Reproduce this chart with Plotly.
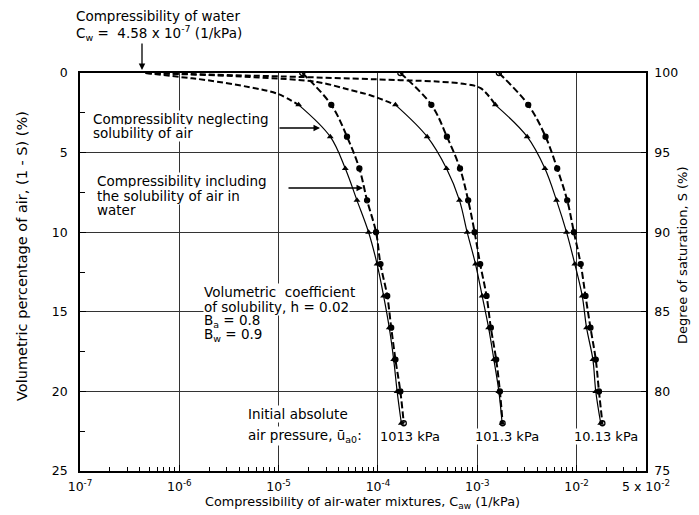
import math
import plotly.graph_objects as go

# ---------------- data ----------------
air_neglect = [2, 4, 6, 8, 10, 12, 14, 16, 18, 20, 22]          # (1 - S) %, neglecting solubility
air_include = [0, 2, 4, 6, 8, 10, 12, 14, 16, 18, 20, 22]       # (1 - S) %, including solubility

neglect_1013 = [1.59e-5, 3.31e-5, 4.69e-5, 6.15e-5, 8.05e-5, 9.8e-5, 1.14e-4, 1.30e-4, 1.44e-4, 1.56e-4, 1.72e-4]
include_1013 = [1.73e-5, 3.39e-5, 4.88e-5, 6.5e-5, 7.77e-5, 9.57e-5, 1.06e-4, 1.24e-4, 1.36e-4, 1.50e-4, 1.68e-4, 1.82e-4]

neglect_101 = [1.50e-4, 3.13e-4, 4.9e-4, 6.62e-4, 7.91e-4, 9.6e-4, 1.12e-3, 1.30e-3, 1.47e-3, 1.65e-3, 1.78e-3]
include_101 = [1.68e-4, 3.45e-4, 4.95e-4, 6.7e-4, 8.1e-4, 9.4e-4, 1.07e-3, 1.24e-3, 1.37e-3, 1.55e-3, 1.69e-3, 1.80e-3]

neglect_10 = [1.52e-3, 3.18e-3, 4.8e-3, 6.28e-3, 7.92e-3, 9.6e-3, 1.14e-2, 1.26e-2, 1.46e-2, 1.56e-2, 1.75e-2]
include_10 = [1.65e-3, 3.26e-3, 4.87e-3, 6.38e-3, 8.05e-3, 9.4e-3, 1.10e-2, 1.23e-2, 1.38e-2, 1.56e-2, 1.68e-2, 1.82e-2]

# dashed approach of the "neglecting" curves towards the compressibility of water
approach_1013_x = [4.58e-7, 1.02e-6, 1.89e-6, 5.17e-6, 9.7e-6, 1.59e-5]
approach_1013_y = [0, 0.25, 0.45, 0.9, 1.3, 2.0]
approach_101_x = [4.58e-7, 5.17e-6, 2.45e-5, 5.27e-5, 8.38e-5, 1.50e-4]
approach_101_y = [0, 0.25, 0.57, 1.07, 1.4, 2.0]
approach_10_x = [4.58e-7, 1.65e-5, 1.68e-4, 4.26e-4, 7.6e-4, 1.08e-3, 1.52e-3]
approach_10_y = [0, 0.25, 0.45, 0.55, 0.7, 0.95, 2.0]

x_tickvals = [1e-7, 1e-6, 1e-5, 1e-4, 1e-3, 1e-2, 5e-2]
x_ticktext = ["10<sup>-7</sup>", "10<sup>-6</sup>", "10<sup>-5</sup>", "10<sup>-4</sup>",
              "10<sup>-3</sup>", "10<sup>-2</sup>", "5 x 10<sup>-2</sup>"]
y_left_ticks = [0, 5, 10, 15, 20, 25]
y_right_ticks = [100, 95, 90, 85, 80, 75]
pressure_labels = ["1013 kPa", "101.3 kPa", "10.13 kPa"]

# ---------------- figure ----------------
FONT = "DejaVu Sans, Verdana, sans-serif"
fig = go.Figure()

for ax_, ay_ in [(approach_1013_x, approach_1013_y), (approach_101_x, approach_101_y), (approach_10_x, approach_10_y)]:
    fig.add_trace(go.Scatter(x=ax_, y=ay_, mode="lines", line=dict(color="black", width=2, dash="6px,3px"),
                             line_shape="spline", hoverinfo="skip", showlegend=False))

for neg in [neglect_1013, neglect_101, neglect_10]:
    fig.add_trace(go.Scatter(x=neg, y=air_neglect, mode="lines+markers", line=dict(color="black", width=1.2),
                             line_shape="spline",
                             marker=dict(symbol="triangle-up", size=6, color="black"),
                             showlegend=False))

for inc in [include_1013, include_101, include_10]:
    syms = ["circle-open"] + ["circle"] * (len(inc) - 2) + ["circle-open"]
    fig.add_trace(go.Scatter(x=inc, y=air_include, mode="lines+markers",
                             line=dict(color="black", width=2, dash="7px,3px"), line_shape="spline",
                             marker=dict(symbol=syms, size=5, color="black", line=dict(color="black", width=1.3)),
                             showlegend=False))

# invisible trace so the right axis is drawn
fig.add_trace(go.Scatter(x=[1e-7], y=[100], yaxis="y2", mode="markers", marker=dict(opacity=0),
                         hoverinfo="skip", showlegend=False))

minor_x = [k * 10 ** e for e in range(-7, -1) for k in range(2, 10) if k * 10 ** e < 0.05]

# the page body adds an 8px offset, so the figure is sized to end at the window edge
fig.update_layout(
    width=691, height=507,
    margin=dict(l=72, r=53, t=65, b=44),
    paper_bgcolor="white", plot_bgcolor="white",
    font=dict(family=FONT, size=12, color="black"),
    xaxis=dict(type="log", range=[-7, math.log10(0.05)], tickvals=x_tickvals, ticktext=x_ticktext,
               ticks="inside", ticklen=6, tickcolor="black", ticklabelstandoff=3,
               showline=True, linecolor="black", linewidth=1.5, mirror=True,
               showgrid=True, gridcolor="#333", gridwidth=1, zeroline=False,
               minor=dict(tickvals=minor_x, ticks="inside", ticklen=4, tickcolor="black", showgrid=False),
               tickfont=dict(size=12.5)),
    yaxis=dict(range=[25, 0], tickvals=y_left_ticks, ticks="inside", ticklen=6, tickcolor="black",
               ticklabelstandoff=8,
               showline=True, linecolor="black", linewidth=1.5, mirror=True,
               showgrid=True, gridcolor="#333", gridwidth=1, zeroline=False,
               minor=dict(tickvals=[2.5, 7.5, 12.5, 17.5, 22.5], ticks="inside", ticklen=5,
                          tickcolor="black", showgrid=False),
               tickfont=dict(size=12.5)),
    yaxis2=dict(overlaying="y", side="right", range=[75, 100], tickvals=y_right_ticks,
                ticks="inside", ticklen=5, tickcolor="black", ticklabelstandoff=4,
                showline=True, linecolor="black", linewidth=1.5, showgrid=False, zeroline=False,
                tickfont=dict(size=12.5)),
)

# page-pixel positions of the plotting area
X0, X1, Y0, Y1 = 80, 646, 73, 471


def P(px, py):
    return (px - X0) / (X1 - X0), (Y1 - py) / (Y1 - Y0)


def text(t, px, py, xanchor="left", size=13, bg=None, angle=0):
    x, y = P(px, py)
    fig.add_annotation(x=x, y=y, xref="paper", yref="paper", text=t, showarrow=False,
                       xanchor=xanchor, yanchor="middle", align="left", textangle=angle,
                       font=dict(family=FONT, size=size, color="black"),
                       bgcolor=bg, borderpad=0)


def arrow(px_tip, py_tip, dx, dy):
    x, y = P(px_tip, py_tip)
    fig.add_annotation(x=x, y=y, xref="paper", yref="paper", text="", showarrow=True,
                       ax=dx, ay=dy, arrowhead=2, arrowsize=1, arrowwidth=1.3, arrowcolor="black")


# top annotation
text("Compressibility of water", 75, 16, size=13.5)
text("C<sub>w</sub> =  4.58 x 10<sup>-7</sup> (1/kPa)", 75, 33, size=13.5)
arrow(142, 70, 0, -28)

text("Compressiblity neglecting", 92, 119, size=13.5, bg="white")
text("solubility of air", 92, 133, size=13.5, bg="white")
arrow(320, 128, -42, 0)

text("Compressibility including", 96, 181, size=13.5, bg="white")
text("the solubility of air in", 96, 196, size=13.5, bg="white")
text("water", 96, 210, size=13.5, bg="white")
arrow(363, 188, -76, 0)

text("Volumetric  coefficient", 203, 292, size=13.5, bg="white")
text("of solubility, h = 0.02", 203, 307, size=13.5, bg="white")
text("B<sub>a</sub> = 0.8", 203, 321, size=13.5)
text("B<sub>w</sub> = 0.9", 203, 335, size=13.5)

text("Initial absolute", 247, 414, size=13.5, bg="white")
text("air pressure, ū<sub>a0</sub>:", 247, 436, size=13.5, bg="white")
for lab, cx in zip(pressure_labels, [410, 507, 606]):
    text(lab, cx, 436, xanchor="center", size=13, bg="white")

# axis titles
text("Compressibility of air-water mixtures, C<sub>aw</sub> (1/kPa)", 362, 503, xanchor="center", size=12.8)
text("Volumetric percentage of air, (1 - S) (%)", 22, 256, xanchor="center", size=14.5, angle=-90)
text("Degree of saturation, S (%)", 682, 255, xanchor="center", size=13, angle=-90)

fig.write_html("out.html")
